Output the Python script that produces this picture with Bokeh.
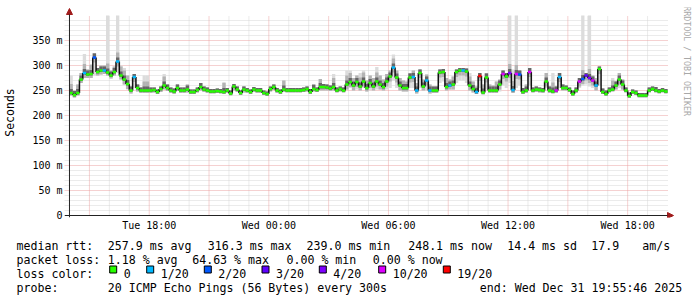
import numpy as np
from datetime import datetime, timezone
from bokeh.plotting import figure
from bokeh.layouts import column, row
from bokeh.core.properties import value
from bokeh.models import (Range1d, FixedTicker, DatetimeTickFormatter, CustomJSTickFormatter,
                          Arrow, NormalHead)
from bokeh.embed import file_html
from bokeh.resources import INLINE

# ---------------- data (10-minute steps, 14:00 Tue -> 20:00 Wed) ----------------
median_ms = [
    245, 241, 245, 272, 285, 282, 283, 316, 287, 290,
    290, 286, 280, 287, 308, 280, 272, 263, 250, 277,
    255, 250, 250, 250, 250, 251, 247, 253, 260, 255,
    250, 248, 255, 250, 250, 252, 247, 247, 251, 257,
    252, 250, 248, 248, 249,
    248, 247, 250, 244, 258, 252, 245, 252, 250, 247,
    252, 250, 250, 245, 243, 253, 257, 250, 247, 252,
    250, 250, 250, 250, 250, 251, 253, 247, 253, 251,
    257, 257, 256, 254, 257, 250, 253, 250, 262, 267,
    260, 267, 258, 268, 255,
    265, 258, 268, 262, 257, 268, 278, 296, 276, 260,
    255, 255, 276, 277, 250, 285, 258, 270, 250, 250,
    250, 286, 287, 257, 260, 262, 287, 290, 290, 288,
    260, 253, 247, 279, 246, 276, 250, 250, 250, 262,
    283, 278, 285, 251, 283,
    282, 247, 250, 287, 250, 252, 251, 250, 268, 250,
    248, 250, 277, 255, 255, 251, 243, 250, 268, 273,
    280, 275, 270, 260, 293, 247, 243, 250, 252, 260,
    272, 262, 250, 239, 247, 245, 240, 240, 240, 250,
    253, 250, 248, 250, 248,
]
smoke_max_ms = [
    280, 250, 262, 285, 323, 292, 303, 325, 295, 300,
    300, 400, 290, 298, 400, 300, 295, 280, 258, 283,
    262, 256, 280, 280, 256, 256, 252, 258, 283, 262,
    256, 254, 262, 256, 256, 262, 252, 252, 256, 265,
    258, 256, 253, 253, 254,
    253, 267, 255, 250, 263, 258, 250, 258, 255, 252,
    257, 255, 255, 250, 248, 258, 262, 255, 252, 270,
    255, 255, 255, 255, 255, 256, 258, 253, 263, 256,
    273, 263, 262, 260, 283, 256, 258, 256, 290, 290,
    275, 280, 285, 290, 270,
    280, 275, 297, 280, 272, 283, 290, 322, 290, 275,
    270, 268, 285, 290, 265, 292, 272, 282, 262, 258,
    258, 292, 293, 275, 272, 278, 292, 295, 295, 294,
    285, 268, 258, 285, 262, 285, 262, 260, 268, 272,
    290, 285, 400, 292, 400,
    290, 255, 262, 295, 256, 258, 256, 255, 285, 258,
    285, 258, 285, 262, 260, 256, 250, 256, 275, 400,
    285, 400, 280, 275, 298, 254, 250, 256, 275, 268,
    285, 272, 256, 246, 252, 250, 245, 245, 245, 256,
    258, 257, 253, 255, 253,
]
smoke_min_ms = [
    240, 236, 240, 265, 275, 275, 275, 280, 280, 282,
    283, 280, 274, 280, 285, 272, 262, 252, 244, 255,
    248, 245, 245, 245, 245, 246, 243, 247, 252, 249,
    245, 243, 249, 245, 245, 246, 243, 243, 246, 250,
    247, 245, 244, 244, 245,
    244, 243, 245, 240, 250, 247, 241, 246, 245, 243,
    247, 245, 245, 241, 239, 248, 251, 245, 243, 247,
    246, 246, 246, 246, 246, 247, 248, 243, 248, 247,
    250, 250, 250, 249, 250, 246, 248, 246, 252, 255,
    250, 252, 250, 255, 248,
    250, 250, 252, 252, 250, 252, 255, 270, 255, 250,
    248, 248, 255, 255, 244, 255, 250, 250, 244, 245,
    245, 265, 268, 250, 252, 252, 265, 270, 270, 265,
    250, 246, 243, 255, 242, 252, 245, 245, 245, 248,
    260, 255, 265, 245, 255,
    260, 243, 245, 260, 246, 247, 246, 245, 255, 245,
    244, 245, 255, 250, 250, 247, 240, 245, 255, 260,
    262, 258, 255, 250, 260, 243, 240, 246, 248, 252,
    255, 252, 246, 236, 243, 241, 236, 236, 236, 246,
    249, 246, 244, 246, 244,
]
# loss bucket index per step (0 = 0, 1 = 1/20, 2 = 2/20, 3 = 3/20, 4 = 4/20, 5 = 10/20, 6 = 19/20)
loss_bucket = [
    0, 0, 0, 0, 1, 0, 0, 2, 0, 0, 1, 0, 0, 0, 1, 0, 0, 0, 0, 1,
    0, 0, 0, 0, 0, 0, 0, 0, 0, 0, 0, 0, 0, 0, 0, 0, 0, 0, 0, 0,
    0, 0, 0, 0, 0,
    0, 0, 0, 0, 0, 0, 0, 0, 0, 0, 0, 0, 0, 0, 0, 0, 0, 0, 0, 0,
    0, 0, 0, 0, 0, 0, 0, 0, 0, 0, 0, 0, 0, 0, 0, 0, 0, 0, 0, 0,
    0, 0, 0, 0, 0,
    0, 0, 0, 0, 0, 0, 0, 1, 0, 0, 0, 0, 0, 1, 1, 0, 0, 1, 1, 0,
    0, 0, 0, 0, 1, 0, 0, 0, 1, 0, 0, 0, 1, 6, 0, 0, 0, 0, 0, 0,
    5, 0, 4, 1, 5,
    2, 0, 0, 5, 0, 0, 0, 0, 0, 0, 0, 5, 1, 0, 0, 0, 0, 0, 5, 2,
    3, 4, 5, 1, 0, 0, 0, 0, 0, 0, 0, 0, 0, 0, 0, 0, 0, 0, 0, 0,
    0, 0, 0, 0, 0,
]
loss_labels = ["0", "1/20", "2/20", "3/20", "4/20", "10/20", "19/20"]
loss_colors = ["#26ff00", "#00b8ff", "#0059ff", "#5e00ff", "#7e00ff", "#dd00ff", "#ff0000"]
y_ticks = [0, 50, 100, 150, 200, 250, 300, 350]
stats_rtt = ["257.9 ms avg", "316.3 ms max", "239.0 ms min", "248.1 ms now", "14.4 ms sd", "17.9", "am/s"]
stats_loss = ["1.18 % avg", "64.63 % max", "0.00 % min", "0.00 % now"]
probe_text = "20 ICMP Echo Pings (56 Bytes) every 300s"
end_text = "end: Wed Dec 31 19:55:46 2025"
watermark = "RRDTOOL / TOBI OETIKER"


def ms(dt):
    return dt.replace(tzinfo=timezone.utc).timestamp() * 1000.0


T0 = ms(datetime(2025, 12, 30, 14, 0))
T1 = ms(datetime(2025, 12, 31, 20, 0))
YMAX = 400.0
HOUR = 3600 * 1000.0
STEP = 600 * 1000.0
W, H = 697, 297
GL, GR, GT, GB = 67, 667, 15, 215        # data (grid) area in pixels
FL, FR, FT, FB = 62, 675, 7, 217         # drawing frame in pixels (room for arrows)
MAIN_W, MAIN_H = 677, 235                # main chart panel


def px_x(px):
    return T0 + (px - GL) / (GR - GL) * (T1 - T0)


def px_y(py):
    return (GB - py) * YMAX / (GB - GT)


FONT = "DejaVu Sans Mono"


def bare(fig):
    fig.axis.visible = False
    fig.grid.visible = False
    fig.outline_line_color = None
    fig.background_fill_color = "white"
    fig.border_fill_color = "white"
    fig.min_border = 0


p = figure(width=MAIN_W, height=MAIN_H, x_axis_type="datetime",
           x_range=Range1d(px_x(FL), px_x(FR)), y_range=Range1d(px_y(FB), px_y(FT)),
           output_backend="svg", toolbar_location=None,
           min_border_left=FL, min_border_right=MAIN_W - FR, min_border_top=FT,
           min_border_bottom=MAIN_H - FB)
p.outline_line_color = None
p.background_fill_color = "white"
p.border_fill_color = "white"
p.grid.visible = False

# ---------------- grid (drawn inside the data area only) ----------------
MAJ_C, MIN_C = "#eba3a3", "#d6d6d6"
hours = range(1, 30)
vx_minor = [T0 + h * HOUR for h in hours if (14 + h) % 3 != 0]
vx_major = [T0 + h * HOUR for h in hours if (14 + h) % 3 == 0]
hy_minor = [v for v in range(10, 401, 10) if v % 50 != 0]
hy_major = [t for t in y_ticks if t > 0]
xl = px_x(62)
p.segment(x0=vx_minor, x1=vx_minor, y0=[0] * len(vx_minor), y1=[YMAX] * len(vx_minor),
          line_color=MIN_C, line_dash="1 1", line_width=1)
p.segment(x0=[xl] * len(hy_minor), x1=[T1] * len(hy_minor), y0=hy_minor, y1=hy_minor,
          line_color=MIN_C, line_dash="1 1", line_width=1)
p.segment(x0=vx_major, x1=vx_major, y0=[0] * len(vx_major), y1=[YMAX] * len(vx_major),
          line_color=MAJ_C, line_dash="1 1", line_width=1)
p.segment(x0=[xl] * len(hy_major), x1=[T1] * len(hy_major), y0=hy_major, y1=hy_major,
          line_color=MAJ_C, line_dash="1 1", line_width=1)

# ---------------- axes (ticks and labels) ----------------
p.xaxis.ticker = FixedTicker(ticks=[T0 + h * HOUR for h in hours if (14 + h) % 6 == 0], minor_ticks=[])
fmt = "%a %H:%M"
p.xaxis.formatter = DatetimeTickFormatter(hours=fmt, hourmin=fmt, days=fmt, minutes=fmt, minsec=fmt)
p.xaxis.axis_line_color = None
p.xaxis.major_tick_out = 0
p.xaxis.major_tick_in = 0
p.xaxis.major_label_standoff = 2

p.yaxis.ticker = FixedTicker(ticks=y_ticks, minor_ticks=[])
p.yaxis.formatter = CustomJSTickFormatter(code="return tick == 0 ? '0' : tick + ' m';")
p.yaxis.axis_line_color = None
p.yaxis.major_tick_out = 0
p.yaxis.major_tick_in = 0
p.yaxis.major_label_standoff = 2
p.yaxis.axis_label = "Seconds"
p.yaxis.axis_label_standoff = 12

for ax in (p.xaxis, p.yaxis):
    ax.major_label_text_font = FONT
    ax.major_label_text_font_size = "10px"
    ax.major_label_text_color = "black"
    ax.axis_label_text_font = FONT
    ax.axis_label_text_font_size = "11.5px"
    ax.axis_label_text_font_style = "normal"
    ax.axis_label_text_color = "black"

# ---------------- smoke + median ----------------
med = np.array(median_ms, dtype=float)
hi = np.maximum(np.array(smoke_max_ms, dtype=float), med)
lo = np.minimum(np.array(smoke_min_ms, dtype=float), med)
ts = T0 + np.arange(len(med)) * STEP
te = ts + STEP

p.quad(left=ts, right=te, bottom=lo, top=hi, fill_color="#dcdcdc", line_color=None)
p.quad(left=ts, right=te, bottom=np.maximum(lo, med - 10), top=np.minimum(hi, med + 18),
       fill_color="#b3b3b3", line_color=None)
p.quad(left=ts, right=te, bottom=np.maximum(lo, med - 3), top=np.minimum(hi, med + 8),
       fill_color="#666666", line_color=None)

p.segment(x0=ts[1:], x1=ts[1:], y0=med[:-1], y1=med[1:], line_color="#111111", line_width=1.5)
p.segment(x0=ts, x1=te, y0=med, y1=med, line_color=[loss_colors[b] for b in loss_bucket],
          line_width=2.5, line_cap="butt")

# ---------------- axis lines with arrows ----------------
AX = "#222222"
HEAD = "#a01c1c"
p.add_layout(Arrow(end=NormalHead(size=6, fill_color=HEAD, line_color=HEAD),
                   x_start=px_x(62), y_start=0, x_end=px_x(673), y_end=0,
                   line_color=AX, line_width=1))
p.add_layout(Arrow(end=NormalHead(size=6, fill_color=HEAD, line_color=HEAD),
                   x_start=T0, y_start=px_y(217), x_end=T0, y_end=px_y(8),
                   line_color=AX, line_width=1))

# ---------------- watermark panel (pixel coordinates) ----------------
pw = figure(width=W - MAIN_W, height=MAIN_H, x_range=Range1d(MAIN_W, W), y_range=Range1d(MAIN_H, 0),
            output_backend="svg", toolbar_location=None)
bare(pw)
pw.text(x=[686], y=[60], text=[watermark], angle=-np.pi / 2, text_font=value(FONT),
        text_font_size=value("8.3px"), text_color="#a8a8a8", text_align="center",
        text_baseline="middle")

# ---------------- legend panel (pixel coordinates) ----------------
pl = figure(width=W, height=H - MAIN_H, x_range=Range1d(0, W), y_range=Range1d(H, MAIN_H),
            output_backend="svg", toolbar_location=None)
bare(pl)

tx, ty, tt = [], [], []


def put(x, y, t):
    tx.append(x)
    ty.append(y)
    tt.append(t)


row1 = [107.3, 207.3, 306, 407.7, 506.7, 590.7, 641.7]
put(16, 245, "median rtt:")
for x, t in zip(row1, stats_rtt):
    put(x, 245, t)

row2 = [107.3, 191.7, 286, 372.3]
put(16, 259, "packet loss:")
for x, t in zip(row2, stats_loss):
    put(x, 259, t)

put(16, 273, "loss color:")
sq_x = [108.7, 145.7, 203.3, 261, 318.3, 377.7, 442.3]
for x, lab in zip(sq_x, loss_labels):
    put(x + 14.5, 273, lab)

put(16, 287, "probe:")
put(107.3, 287, probe_text)
put(479.3, 287, end_text)

pl.quad(left=[x + 0.5 for x in sq_x], right=[x + 7.5 for x in sq_x], top=[265.5] * len(sq_x),
        bottom=[272.5] * len(sq_x), fill_color=loss_colors, line_color="black", line_width=1)
pl.text(x=tx, y=ty, text=tt, text_font=value(FONT), text_font_size=value("11.6px"),
        text_color="black", text_align="left", text_baseline="alphabetic")

layout = column(row(p, pw, spacing=0), pl, spacing=0)
open("out.html", "w").write(file_html(layout, INLINE))
